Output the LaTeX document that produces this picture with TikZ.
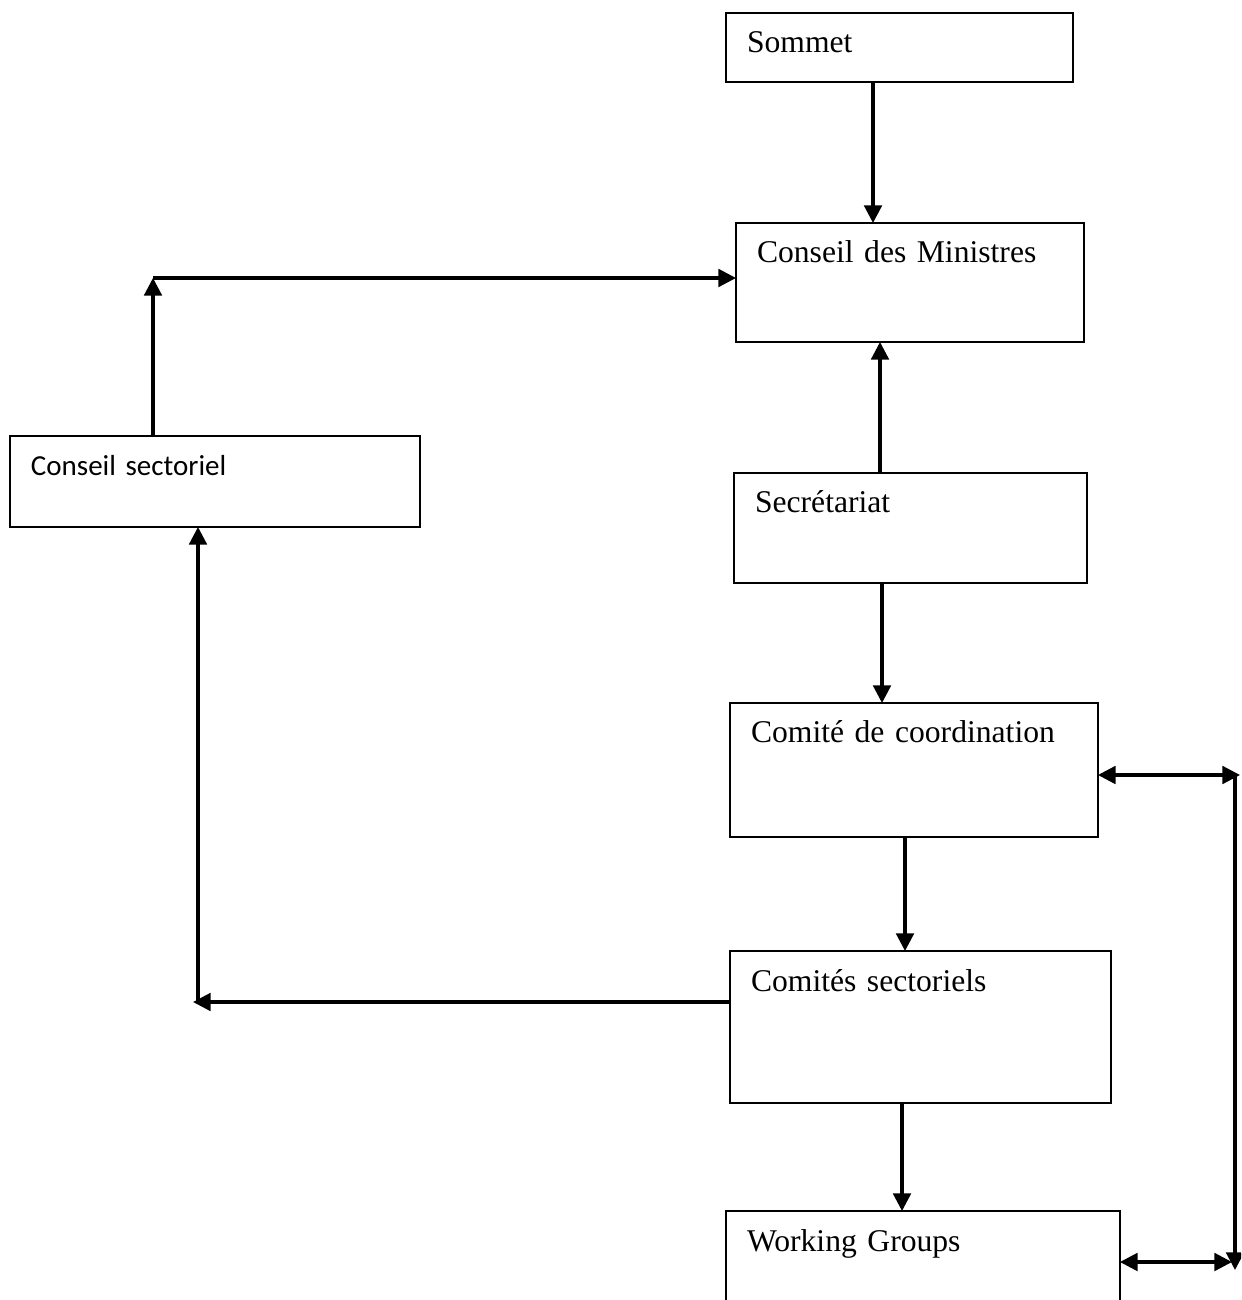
\documentclass[tikz,border=0pt]{standalone}
\usepackage{fontspec}
\setmainfont{Liberation Serif}
\newfontfamily\carlito{Carlito}
\usetikzlibrary{arrows.meta}
\tikzset{
  box/.style 2 args={draw, line width=0.7pt, anchor=north west, outer sep=0pt,
    align=left, inner xsep=0.42cm, inner ysep=0pt, text height=0.8cm,
    text width=#1, text depth=#2, font=\fontsize{18}{21}\selectfont}
}
\begin{document}
\begin{tikzpicture}[>={Triangle[length=10pt,width=10pt]},x=0.02cm,y=-0.02cm,line width=1.8pt]
\useasboundingbox (0,0) rectangle (1241,1300);
\clip (0,0) rectangle (1241,1300);
\node [box={6.10cm}{0.58cm}] (som) at (726,13) {Sommet};
\node [box={6.12cm}{1.58cm}] (cm) at (736,223) {Conseil des Ministres};
\node [box={7.36cm}{1.02cm},font=\carlito\fontsize{16.5}{20}\selectfont] (cs) at (10,436) {Conseil sectoriel};
\node [box={6.22cm}{1.40cm}] (sec) at (734,473) {Secrétariat};
\node [box={6.52cm}{1.88cm}] (cc) at (730,703) {Comité de coordination};
\node [box={6.78cm}{2.24cm}] (csl) at (730,951) {Comités sectoriels};
\node [box={7.04cm}{2.20cm}] (wg) at (726,1211) {Working Groups};
\coordinate (up) at (153,278);
\coordinate (left) at (193,1002);
\coordinate (rtop) at (1240,775);
\coordinate (rbot) at (1235,1270);
\coordinate (wgend) at (1232,1262);
\draw [->] (som.south -| 873,0) -- (cm.north -| 873,0);
\draw [->] (cs.north -| up) -- (up);
\draw [->] (up) -- (cm.west |- up);
\draw [->] (sec.north -| 880,0) -- (cm.south -| 880,0);
\draw [->] (sec.south -| 882,0) -- (cc.north -| 882,0);
\draw [->] (cc.south -| 905,0) -- (csl.north -| 905,0);
\draw [->] (csl.west |- left) -- (left);
\draw [->] (198,1002) -- (cs.south -| 198,0);
\draw [->] (csl.south -| 902,0) -- (wg.north -| 902,0);
\draw [<->] (cc.east |- rtop) -- (rtop);
\draw [->] (rbot |- rtop) -- (rbot);
\draw [<->] (wg.east |- wgend) -- (wgend);
\end{tikzpicture}
\end{document}
